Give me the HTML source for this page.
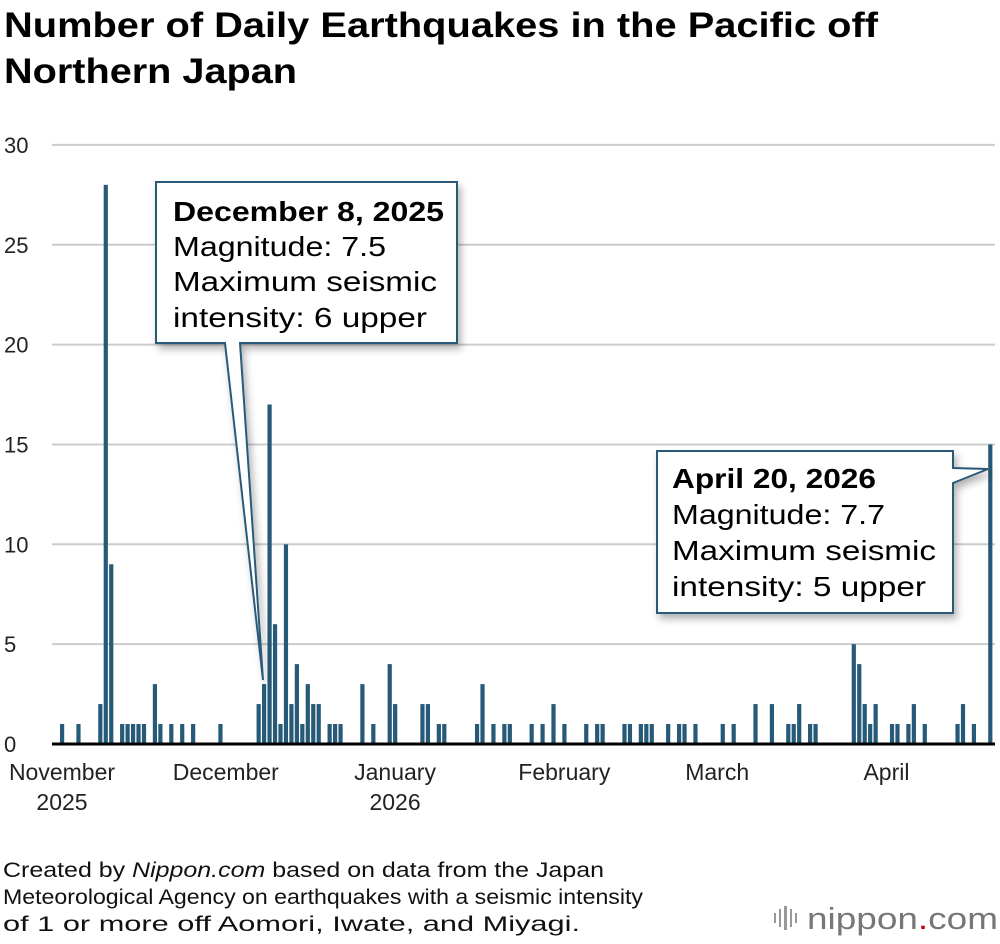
<!DOCTYPE html>
<html><head><meta charset="utf-8"><style>
body{margin:0;background:#fff;width:1000px;height:944px;overflow:hidden;font-family:"Liberation Sans",Arial,sans-serif}
svg{display:block}
</style></head><body>
<svg id="chart" width="1000" height="944" viewBox="0 0 1000 944" font-family="Liberation Sans, Arial, sans-serif">
<defs><filter id="sh" x="-10%" y="-10%" width="130%" height="130%"><feDropShadow dx="3" dy="5" stdDeviation="4" flood-color="#000" flood-opacity="0.3"/></filter></defs>
<g font-weight="bold" font-size="35" fill="#000">
<text x="4" y="37" textLength="874" lengthAdjust="spacingAndGlyphs">Number of Daily Earthquakes in the Pacific off</text>
<text x="4" y="83" textLength="293" lengthAdjust="spacingAndGlyphs">Northern Japan</text>
</g>
<g id="grid"></g>
<g id="yticks" font-size="22" fill="#222"></g>
<g id="bars"></g>
<line x1="52" x2="995" y1="744" y2="744" stroke="#000" stroke-width="3"/>
<g id="xticks" font-size="23" fill="#222" text-anchor="middle"></g>
<g>
<path d="M156 182 H457 V343 H240 L263 680 L225 343 H156 Z" fill="#fff" stroke="#2a5a7a" stroke-width="2" filter="url(#sh)"/>
<g font-size="28" fill="#000"><text x="173" y="221" font-weight="bold" textLength="271" lengthAdjust="spacingAndGlyphs">December 8, 2025</text><text x="173" y="256" textLength="213" lengthAdjust="spacingAndGlyphs">Magnitude: 7.5</text><text x="173" y="291" textLength="264" lengthAdjust="spacingAndGlyphs">Maximum seismic</text><text x="173" y="327" textLength="254" lengthAdjust="spacingAndGlyphs">intensity: 6 upper</text></g>
</g>
<g>
<path d="M657 451 H953 V468 L988 469 L953 483 V613 H657 Z" fill="#fff" stroke="#2a5a7a" stroke-width="2" filter="url(#sh)"/>
<g font-size="28" fill="#000"><text x="672" y="488" font-weight="bold" textLength="204" lengthAdjust="spacingAndGlyphs">April 20, 2026</text><text x="672" y="524" textLength="213" lengthAdjust="spacingAndGlyphs">Magnitude: 7.7</text><text x="672" y="560" textLength="264" lengthAdjust="spacingAndGlyphs">Maximum seismic</text><text x="672" y="596" textLength="254" lengthAdjust="spacingAndGlyphs">intensity: 5 upper</text></g>
</g>
<g font-size="21" fill="#111">
<text x="3" y="877" textLength="601" lengthAdjust="spacingAndGlyphs">Created by <tspan font-style="italic">Nippon.com</tspan> based on data from the Japan</text>
<text x="3" y="904" textLength="640" lengthAdjust="spacingAndGlyphs">Meteorological Agency on earthquakes with a seismic intensity</text>
<text x="3" y="931" textLength="577" lengthAdjust="spacingAndGlyphs">of 1 or more off Aomori, Iwate, and Miyagi.</text>
</g>
<g>
<g fill="#999"><rect x="774" y="913" width="2" height="10"/><rect x="779" y="909" width="2" height="18"/><rect x="784" y="906" width="3" height="24"/><rect x="790" y="909" width="2" height="18"/><rect x="795" y="913" width="2" height="10"/></g>
<text x="807" y="929" font-size="31" fill="#777" textLength="191" lengthAdjust="spacingAndGlyphs">nippon<tspan fill="#c00">.</tspan>com</text>
</g>
</svg>
<script>
const days=[0,3,7,8,9,11,12,13,14,15,17,18,20,22,24,29,36,37,38,39,40,41,42,43,44,45,46,47,49,50,51,55,57,60,61,66,67,69,70,76,77,79,81,82,86,88,90,92,96,98,99,103,104,106,107,108,111,113,114,116,121,123,127,130,133,134,135,137,138,145,146,147,148,149,152,153,155,156,158,164,165,167,170];
const counts=[1,1,2,28,9,1,1,1,1,1,3,1,1,1,1,1,2,3,17,6,1,10,2,4,1,3,2,2,1,1,1,3,1,4,2,2,2,1,1,1,3,1,1,1,1,1,2,1,1,1,1,1,1,1,1,1,1,1,1,1,1,1,2,2,1,1,2,1,1,5,4,2,1,2,1,1,1,2,1,1,2,1,15];
const yTicks=[0,5,10,15,20,25,30];
const monthDays=[0,30,61,92,120,151];
const monthLabels=[["November","2025"],["December"],["January","2026"],["February"],["March"],["April"]];
const NS="http://www.w3.org/2000/svg";
const x=d=>62+d*5.46, y=v=>744-v*19.97;
const g=document.getElementById('grid'),yt=document.getElementById('yticks'),b=document.getElementById('bars'),xt=document.getElementById('xticks');
function mk(t,a,p){const e=document.createElementNS(NS,t);for(const k in a)e.setAttribute(k,a[k]);p.appendChild(e);return e;}
yTicks.forEach(v=>{
 if(v>0){const l=mk('line',{x1:52,x2:995,y1:y(v),y2:y(v),stroke:'#ccc','stroke-width':2},g);
 
 }
 const t=mk('text',{x:4,y:y(v)+8},yt);t.textContent=v;
 
 
});
days.forEach((d,i)=>{
 const r=mk('rect',{x:x(d)-2,y:y(counts[i]),width:4.2,height:744-y(counts[i]),fill:'#265a78'},b);
 
 
});
monthDays.forEach((d,i)=>{
 monthLabels[i].forEach((s,j)=>{const t=mk('text',{x:x(d),y:780+j*30},xt);t.textContent=s;
 
 });
});
</script>
</body></html>
